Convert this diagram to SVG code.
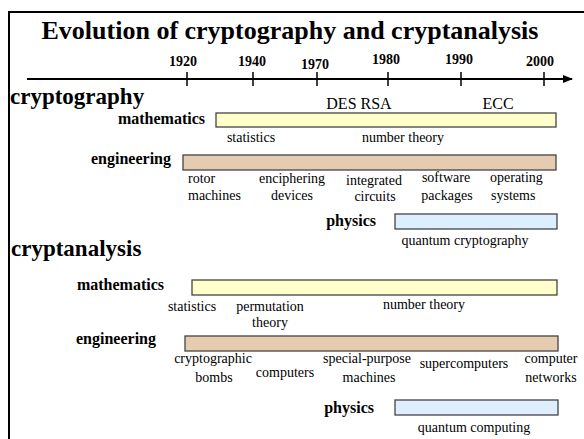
<svg xmlns="http://www.w3.org/2000/svg" width="584" height="439" viewBox="0 0 584 439">
<defs>
<style>
text{font-family:"Liberation Serif","Times New Roman",serif;fill:#000}
.title{font-size:26px;font-weight:bold}
.sec{font-size:23px;font-weight:bold}
.cat{font-size:16px;font-weight:bold;text-anchor:end}
.yr{font-size:14px;font-weight:bold;text-anchor:middle}
.lbl{font-size:14px;text-anchor:middle}
.lbl.st{text-anchor:start}
.evt{font-size:16px;text-anchor:middle}
.bar{stroke:#444;stroke-width:1.3}
.math{fill:#ffffcc}
.eng{fill:#e5cbb0}
.phy{fill:#ddeeff}
.tick{stroke:#000;stroke-width:1.5}
</style>
<marker id="arr" markerWidth="10" markerHeight="8" refX="9" refY="4" orient="auto" markerUnits="userSpaceOnUse">
<path d="M0,0 L10,4 L0,8 Z" fill="#000"/>
</marker>
</defs>
<rect width="584" height="439" fill="#fff"/>
<rect x="9" y="12" width="600" height="500" fill="none" stroke="#000" stroke-width="2"/>
<text class="title" x="290" y="39" text-anchor="middle">Evolution of cryptography and cryptanalysis</text>
<g id="timeline">
<line x1="27" y1="79" x2="572" y2="79" stroke="#000" stroke-width="2" marker-end="url(#arr)"/>
<line class="tick" x1="187" y1="72" x2="187" y2="86"/>
<line class="tick" x1="253" y1="72" x2="253" y2="86"/>
<line class="tick" x1="317" y1="72" x2="317" y2="86"/>
<line class="tick" x1="388" y1="72" x2="388" y2="86"/>
<line class="tick" x1="461" y1="72" x2="461" y2="86"/>
<line class="tick" x1="544" y1="72" x2="544" y2="86"/>
<text class="yr" x="183" y="66">1920</text>
<text class="yr" x="252" y="66">1940</text>
<text class="yr" x="315" y="69">1970</text>
<text class="yr" x="386" y="64">1980</text>
<text class="yr" x="459" y="64">1990</text>
<text class="yr" x="540" y="66">2000</text>
</g>
<text class="sec" x="10" y="104">cryptography</text>
<g id="crypto-math">
<text class="cat" x="205" y="124">mathematics</text>
<rect class="bar math" x="216" y="113" width="340" height="14"/>
<text class="evt" x="359" y="109">DES RSA</text>
<text class="evt" x="498" y="109">ECC</text>
<text class="lbl" x="251" y="142">statistics</text>
<text class="lbl" x="403" y="142">number theory</text>
</g>
<g id="crypto-eng">
<text class="cat" x="171" y="164">engineering</text>
<rect class="bar eng" x="183" y="155" width="373" height="15"/>
<text class="lbl st" x="188" y="183">rotor</text>
<text class="lbl st" x="188" y="200">machines</text>
<text class="lbl" x="292" y="183">enciphering</text>
<text class="lbl" x="292" y="200">devices</text>
<text class="lbl" x="374" y="185">integrated</text>
<text class="lbl" x="375" y="201">circuits</text>
<text class="lbl" x="446" y="182">software</text>
<text class="lbl" x="447" y="200">packages</text>
<text class="lbl st" x="490" y="182">operating</text>
<text class="lbl st" x="491" y="200">systems</text>
</g>
<g id="crypto-phys">
<text class="cat" x="376" y="226">physics</text>
<rect class="bar phy" x="395" y="214" width="162" height="15"/>
<text class="lbl" x="465" y="245">quantum cryptography</text>
</g>
<text class="sec" x="11" y="256">cryptanalysis</text>
<g id="analysis-math">
<text class="cat" x="164" y="290">mathematics</text>
<rect class="bar math" x="192" y="280" width="365" height="15"/>
<text class="lbl" x="192" y="311">statistics</text>
<text class="lbl" x="270" y="311">permutation</text>
<text class="lbl" x="270" y="327">theory</text>
<text class="lbl" x="424" y="309">number theory</text>
</g>
<g id="analysis-eng">
<text class="cat" x="156" y="344">engineering</text>
<rect class="bar eng" x="185" y="336" width="373" height="15"/>
<text class="lbl" x="213" y="363">cryptographic</text>
<text class="lbl" x="214" y="382">bombs</text>
<text class="lbl" x="285" y="377">computers</text>
<text class="lbl" x="367" y="363">special-purpose</text>
<text class="lbl" x="369" y="382">machines</text>
<text class="lbl" x="464" y="368">supercomputers</text>
<text class="lbl" x="551" y="363">computer</text>
<text class="lbl" x="551" y="382">networks</text>
</g>
<g id="analysis-phys">
<text class="cat" x="374" y="413">physics</text>
<rect class="bar phy" x="395" y="400" width="163" height="15"/>
<text class="lbl" x="474" y="432">quantum computing</text>
</g>
</svg>
